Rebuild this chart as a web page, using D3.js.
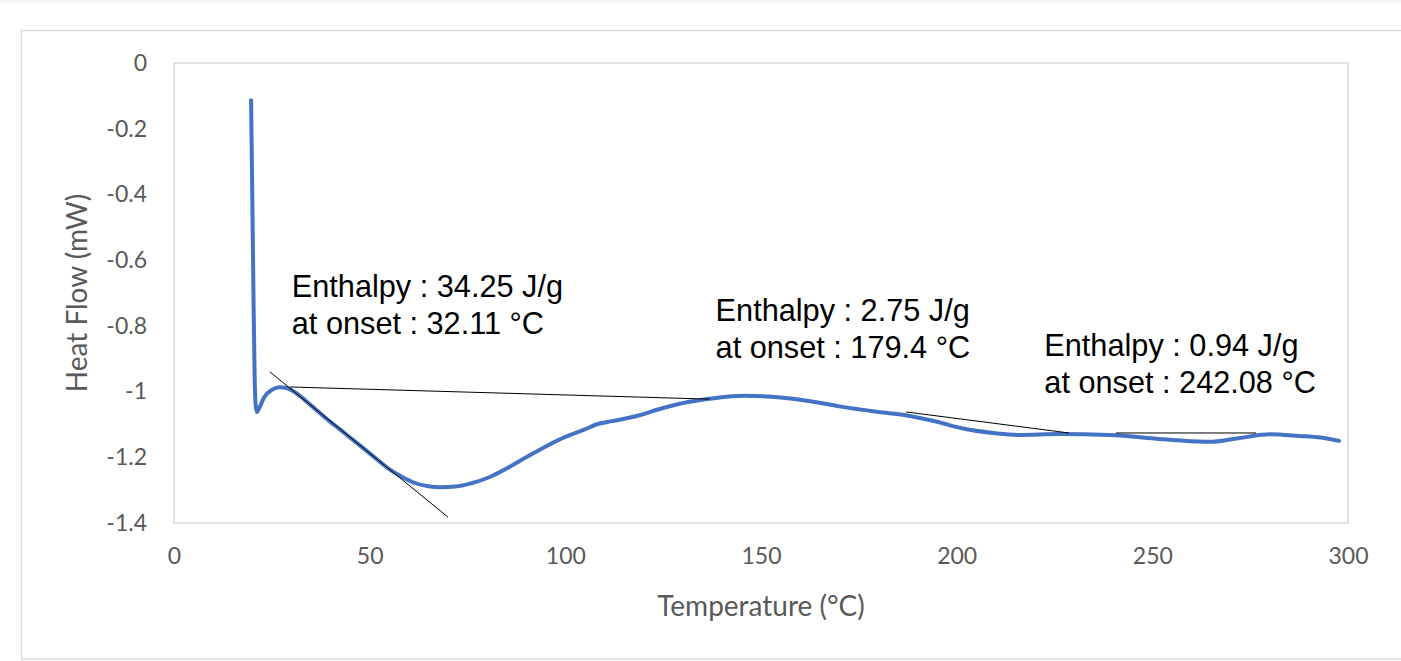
<!DOCTYPE html>
<html>
<head>
<meta charset="utf-8">
<script src="https://cdn.jsdelivr.net/npm/d3@7"></script>
<style>
  body { margin: 0; background: #fff; }
  svg { display: block; }
</style>
</head>
<body>
<svg id="chart"></svg>
<script>
// DSC trace
let temperature = [19.7, 20.0, 20.3, 20.6, 20.9, 21.2, 21.8, 23, 25, 27, 29, 31, 35, 40, 42.4, 45, 50, 55, 58, 61, 65, 68, 72, 76, 80.7, 85, 90, 95, 100, 105, 108.5, 112, 118, 125, 131.7, 138, 146, 155, 163, 170, 180, 187, 195, 201, 210, 216, 226, 239, 251.7, 258, 264.5, 272, 280, 287.5, 293, 297.7]
let heatFlow = [-0.113, -0.4, -0.7, -0.95, -1.045, -1.062, -1.05, -1.018, -0.995, -0.987, -0.99, -1.003, -1.042, -1.093, -1.115, -1.14, -1.188, -1.236, -1.258, -1.276, -1.288, -1.291, -1.289, -1.279, -1.26, -1.234, -1.2, -1.167, -1.138, -1.115, -1.098, -1.09, -1.075, -1.05, -1.031, -1.02, -1.013, -1.018, -1.03, -1.045, -1.062, -1.072, -1.092, -1.111, -1.127, -1.132, -1.129, -1.132, -1.144, -1.15, -1.153, -1.142, -1.13, -1.135, -1.14, -1.15]

// tangent / baseline construction lines: [t1, hf1, t2, hf2]
let tangentLines = [
    [29.6, -0.986, 136.8, -1.023],
    [24.5, -0.94, 70.0, -1.382],
    [187.1, -1.062, 228.7, -1.126],
    [240.7, -1.126, 276.5, -1.126],
]

let noteTemps = [30.1, 138.4, 222.4]
let noteFlows = [-0.712, -0.785, -0.892]
let noteLines = [
    ['Enthalpy : 34.25 J/g', 'at onset : 32.11 \u00B0C'],
    ['Enthalpy : 2.75 J/g', 'at onset : 179.4 \u00B0C'],
    ['Enthalpy : 0.94 J/g', 'at onset : 242.08 \u00B0C'],
]

let xTicks = [0, 50, 100, 150, 200, 250, 300]
let yTicks = [0, -0.2, -0.4, -0.6, -0.8, -1, -1.2, -1.4]

let opts = {
    width: 1401,
    height: 661,
    left: 174,
    right: 1348,
    top: 63,
    bottom: 523,
}

let svg = d3.select('#chart')
    .attr('width', opts.width)
    .attr('height', opts.height)

svg.append('rect')
    .attr('width', opts.width)
    .attr('height', opts.height)
    .attr('fill', '#fff')
svg.append('rect')
    .attr('width', opts.width)
    .attr('height', 3)
    .attr('fill', '#f5f5f5')

// outer chart frame (runs off the right edge)
svg.append('rect')
    .attr('x', 21.5)
    .attr('y', 30.5)
    .attr('width', 1420)
    .attr('height', 628.5)
    .attr('fill', 'none')
    .attr('stroke', '#d9d9d9')
    .attr('stroke-width', 1.5)

let x = d3.scaleLinear().domain([0, 300]).range([opts.left, opts.right])
let y = d3.scaleLinear().domain([-1.4, 0]).range([opts.bottom, opts.top])

// plot area frame
svg.append('rect')
    .attr('x', opts.left)
    .attr('y', opts.top)
    .attr('width', opts.right - opts.left)
    .attr('height', opts.bottom - opts.top)
    .attr('fill', 'none')
    .attr('stroke', '#d9d9d9')
    .attr('stroke-width', 1.5)

let fmt = d => d === 0 ? '0' : String(+d.toFixed(1))

let yAxis = svg.append('g')
    .attr('transform', 'translate(' + opts.left + ',0)')
    .call(d3.axisLeft(y).tickValues(yTicks).tickFormat(fmt).tickSize(0).tickPadding(27))
let xAxis = svg.append('g')
    .attr('transform', 'translate(0,' + opts.bottom + ')')
    .call(d3.axisBottom(x).tickValues(xTicks).tickFormat(fmt).tickSize(0).tickPadding(25))

;[yAxis, xAxis].forEach(g => {
    g.select('.domain').remove()
    g.selectAll('text')
        .attr('fill', '#595959')
        .style('font-family', 'Lato, "Open Sans", sans-serif')
        .style('font-size', '23px')
})

svg.append('text')
    .attr('transform', 'translate(77,' + (opts.top + opts.bottom) / 2 + ') rotate(-90)')
    .attr('text-anchor', 'middle')
    .attr('dy', '0.35em')
    .attr('fill', '#595959')
    .style('font-family', 'Lato, "Open Sans", sans-serif')
    .style('font-size', '28px')
    .text('Heat Flow (mW)')

svg.append('text')
    .attr('x', (opts.left + opts.right) / 2)
    .attr('y', 606)
    .attr('text-anchor', 'middle')
    .attr('dy', '0.35em')
    .attr('fill', '#595959')
    .style('font-family', 'Lato, "Open Sans", sans-serif')
    .style('font-size', '28px')
    .text('Temperature (\u00B0C)')

// the DSC curve
let series = temperature.map((t, i) => [t, heatFlow[i]])
let line = d3.line()
    .x(d => x(d[0]))
    .y(d => y(d[1]))
    .curve(d3.curveMonotoneX)

svg.append('path')
    .datum(series)
    .attr('fill', 'none')
    .attr('stroke', '#4472c4')
    .attr('stroke-width', 4)
    .attr('stroke-linejoin', 'round')
    .attr('stroke-linecap', 'round')
    .attr('d', line)

svg.selectAll('line.tangent')
    .data(tangentLines)
    .enter().append('line')
    .attr('class', 'tangent')
    .attr('x1', d => x(d[0]))
    .attr('y1', d => y(d[1]))
    .attr('x2', d => x(d[2]))
    .attr('y2', d => y(d[3]))
    .attr('stroke', '#000')
    .attr('stroke-width', 1)

let notes = svg.selectAll('text.note')
    .data(noteLines)
    .enter().append('text')
    .attr('class', 'note')
    .attr('fill', '#000')
    .style('font-family', '"Liberation Sans", Arial, sans-serif')
    .style('font-size', '30.7px')
notes.each(function(lines, i) {
    let t = d3.select(this)
    lines.forEach((s, j) => {
        t.append('tspan')
            .attr('x', x(noteTemps[i]))
            .attr('y', y(noteFlows[i]) + j * 37)
            .text(s)
    })
})
</script>
</body>
</html>
